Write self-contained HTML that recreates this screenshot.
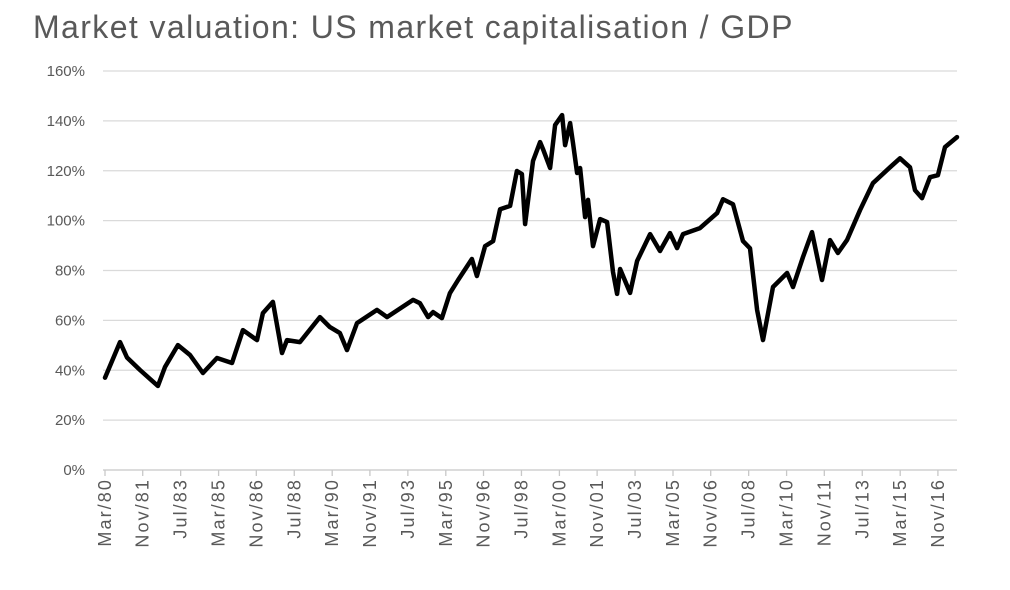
<!DOCTYPE html>
<html><head><meta charset="utf-8"><style>
body{margin:0;background:#fff;width:1010px;height:585px;overflow:hidden;font-family:"Liberation Sans",sans-serif}
</style></head><body>
<svg id="chart" width="1010" height="585" xmlns="http://www.w3.org/2000/svg">
<text x="33" y="38" font-size="32" letter-spacing="1.4" fill="#595959" font-family="Liberation Sans, sans-serif">Market valuation: US market capitalisation / GDP</text>
<g id="grid"></g><g id="yt"></g><g id="xt"></g><g id="series"></g>
</svg>
<script>
const yTicks=[0,20,40,60,80,100,120,140,160];
const xTickLabels=["Mar/80","Nov/81","Jul/83","Mar/85","Nov/86","Jul/88","Mar/90","Nov/91","Jul/93","Mar/95","Nov/96","Jul/98","Mar/00","Nov/01","Jul/03","Mar/05","Nov/06","Jul/08","Mar/10","Nov/11","Jul/13","Mar/15","Nov/16"];
const xTickYears=[1980.17,1981.83,1983.5,1985.17,1986.83,1988.5,1990.17,1991.83,1993.5,1995.17,1996.83,1998.5,2000.17,2001.83,2003.5,2005.17,2006.83,2008.5,2010.17,2011.83,2013.5,2015.17,2016.83];
const years=[1980.17,1980.83,1981.14,1981.71,1982.50,1982.81,1983.38,1983.91,1984.48,1985.10,1985.76,1986.24,1986.86,1987.12,1987.56,1987.96,1988.18,1988.75,1989.63,1990.07,1990.51,1990.82,1991.26,1992.14,1992.58,1993.73,1994.03,1994.39,1994.61,1995.00,1995.35,1995.71,1996.32,1996.54,1996.90,1997.25,1997.56,1998.00,1998.30,1998.52,1998.66,1999.01,1999.32,1999.45,1999.76,1999.98,2000.29,2000.42,2000.64,2000.77,2000.95,2001.08,2001.30,2001.43,2001.65,2001.96,2002.27,2002.53,2002.71,2002.84,2003.28,2003.59,2004.16,2004.60,2005.04,2005.35,2005.61,2006.36,2007.11,2007.37,2007.81,2008.25,2008.56,2008.87,2009.13,2009.57,2010.19,2010.45,2010.89,2011.29,2011.73,2012.08,2012.43,2012.83,2013.40,2013.97,2014.72,2015.16,2015.60,2015.82,2016.13,2016.48,2016.83,2017.14,2017.67];
const values=[37,51.3,45.1,40.1,33.7,41.3,50.1,46.1,38.9,44.9,42.9,56.1,52.1,62.9,67.4,46.9,52.1,51.3,61.3,57.3,54.9,48.1,58.9,64.2,61.3,68.2,66.9,61.3,63.3,60.9,70.9,76.2,84.6,77.8,89.8,91.8,104.6,105.9,119.9,118.7,98.6,123.9,131.5,128.7,121.1,138.3,142.3,130.3,139.1,131.1,119.1,121.1,101.4,108.3,89.8,100.6,99.4,79.4,70.6,80.6,71.0,83.8,94.6,87.8,95.0,89.0,94.6,97.0,103.0,108.6,106.6,91.8,88.9,64.2,52.1,73.4,79.0,73.4,85.4,95.4,76.2,92.2,87.0,92.2,104.2,115.0,121.4,125.0,121.4,112.2,109.0,117.4,118.2,129.5,133.5];
const NS="http://www.w3.org/2000/svg";
const X0=105,X1=957,Y0=470,Y1=71;
const xs=y=>X0+(y-1980.17)*22.72;
const ys=v=>Y0-(v/160)*(Y0-Y1);
function mk(t,p,a){const e=document.createElementNS(NS,t);for(const k in a)e.setAttribute(k,a[k]);p.appendChild(e);return e;}
const grid=document.getElementById('grid'),yt=document.getElementById('yt'),xt=document.getElementById('xt'),ser=document.getElementById('series');
yTicks.forEach(v=>{
  const l=mk('line',grid,{x1:103,x2:X1,y1:ys(v),y2:ys(v),stroke:v===0?'#c8c8c8':'#dadada','stroke-width':1.3});
  
  
  const t=mk('text',yt,{x:85,y:ys(v)+5,'text-anchor':'end','font-size':15,fill:'#595959'});
  t.textContent=v+'%';
  
  
});
xTickLabels.forEach((s,i)=>{
  const x=xs(xTickYears[i]);
  const tk=mk('line',xt,{x1:x,x2:x,y1:Y0,y2:Y0+6,stroke:'#c8c8c8','stroke-width':1.3});
  
  
  const t=mk('text',xt,{x:0,y:0,'text-anchor':'end','font-size':18,'letter-spacing':2.1,fill:'#595959',transform:`translate(${x+6},478) rotate(-90)`});
  t.textContent=s;
  
  
});
const d=years.map((y,i)=>(i?'L':'M')+xs(y).toFixed(1)+','+ys(values[i]).toFixed(1)).join(' ');
const p=mk('path',ser,{d:d,fill:'none',stroke:'#000','stroke-width':4.5,'stroke-linejoin':'round','stroke-linecap':'round'});


</script>
</body></html>
